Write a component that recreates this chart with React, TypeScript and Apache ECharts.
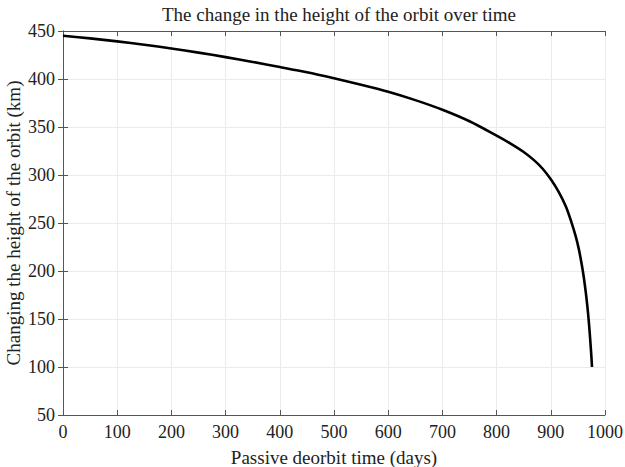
import React, { useEffect, useRef } from "react";
import * as echarts from "echarts";

const days = [0, 50, 100, 150, 200, 250, 300, 350, 400, 450, 500, 550, 600, 650, 700, 750, 800, 825, 850, 870, 885, 900, 915, 928, 938, 946, 952, 957, 961, 964.5, 967.5, 970, 972, 973.8, 975, 976];
const heights = [445, 442.3, 439.2, 435.7, 431.8, 427.5, 422.8, 417.8, 412.5, 407, 400.7, 394, 386.7, 378, 368, 356, 341, 333, 324, 315, 306.5, 295.5, 282, 267, 251, 236, 222, 207, 193, 178, 163, 148, 134, 120, 110, 100];
const xTicks = { min: 0, max: 1000, interval: 100 };
const yTicks = { min: 50, max: 450, interval: 50 };

const FONT = "Liberation Serif";
const AXIS_COLOR = "#555";
const TEXT_COLOR = "#222";

export default function App() {
  const ref = useRef<HTMLDivElement>(null);
  useEffect(() => {
    if (!ref.current) return;
    const chart = echarts.init(ref.current, undefined, { renderer: "svg" });
    const axisLine = { show: true, lineStyle: { color: AXIS_COLOR, width: 1 } };
    const axisTick = { show: true, inside: true, length: 5, lineStyle: { color: AXIS_COLOR } };
    const splitLine = { show: true, lineStyle: { color: "#ebebeb", width: 1 } };
    chart.setOption({
      animation: false,
      backgroundColor: "#fff",
      title: {
        text: "The change in the height of the orbit over time",
        left: 334,
        textAlign: "center",
        top: 0,
        textStyle: { fontFamily: FONT, fontSize: 19, fontWeight: "normal", color: TEXT_COLOR },
      },
      grid: { left: 63, right: 20, top: 31, bottom: 52, containLabel: false, outerBoundsMode: "none" },
      xAxis: [
        {
          type: "value",
          position: "bottom",
          ...xTicks,
          name: "Passive deorbit time (days)",
          nameLocation: "middle",
          nameGap: 33,
          nameMoveOverlap: false,
          nameTextStyle: { fontFamily: FONT, fontSize: 19, color: TEXT_COLOR },
          axisLine,
          axisTick,
          splitLine,
          axisLabel: { fontFamily: FONT, fontSize: 18, color: TEXT_COLOR, margin: 8, formatter: (v: number) => String(v) },
        },
        {
          type: "value",
          position: "top",
          ...xTicks,
          axisLine,
          axisTick,
          splitLine: { show: false },
          axisLabel: { show: false },
        },
      ],
      yAxis: [
        {
          type: "value",
          position: "left",
          ...yTicks,
          name: "Changing the height of the orbit (km)",
          nameLocation: "middle",
          nameGap: 40,
          nameMoveOverlap: false,
          nameTextStyle: { fontFamily: FONT, fontSize: 19, color: TEXT_COLOR },
          axisLine,
          axisTick,
          splitLine,
          axisLabel: { fontFamily: FONT, fontSize: 18, color: TEXT_COLOR, margin: 8 },
        },
        {
          type: "value",
          position: "right",
          ...yTicks,
          axisLine,
          axisTick,
          splitLine: { show: false },
          axisLabel: { show: false },
        },
      ],
      series: [
        {
          type: "line",
          data: days.map((d, i) => [d, heights[i]]),
          smooth: 0.3,
          showSymbol: false,
          lineStyle: { color: "#000", width: 2.6, join: "round" },
          xAxisIndex: 0,
          yAxisIndex: 0,
        },
      ],
    });
    return () => chart.dispose();
  }, []);
  return <div ref={ref} style={{ width: 625, height: 467, position: "absolute", left: 0, top: 0 }} />;
}
